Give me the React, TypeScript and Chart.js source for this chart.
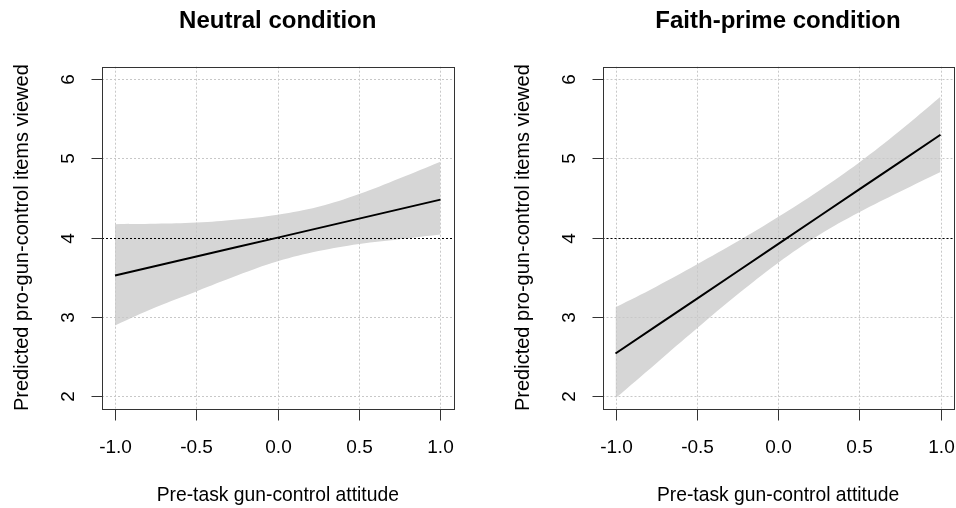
import React, { useEffect, useRef } from 'react';
import { Chart, registerables } from 'chart.js';
Chart.register(...registerables);

const xValues = [-1, -0.75, -0.5, -0.25, 0, 0.25, 0.5, 0.75, 1];
const neutralFit = [3.52, 3.64, 3.76, 3.88, 4.0, 4.12, 4.24, 4.36, 4.48];
const neutralUpper = [4.17, 4.175, 4.19, 4.23, 4.29, 4.39, 4.55, 4.75, 4.96];
const neutralLower = [2.89, 3.12, 3.32, 3.52, 3.7, 3.83, 3.92, 3.98, 4.04];
const faithFit = [2.535, 2.881, 3.226, 3.572, 3.918, 4.263, 4.609, 4.954, 5.3];
const faithUpper = [3.12, 3.38, 3.66, 3.95, 4.26, 4.59, 4.95, 5.35, 5.78];
const faithLower = [1.97, 2.41, 2.85, 3.28, 3.68, 4.03, 4.32, 4.58, 4.83];
const xTicks = [-1, -0.5, 0, 0.5, 1];
const xTickLabels = ['-1.0', '-0.5', '0.0', '0.5', '1.0'];
const yTicks = [2, 3, 4, 5, 6];
const yTickLabels = ['2', '3', '4', '5', '6'];
const panelTitles = ['Neutral condition', 'Faith-prime condition'];
const xTitle = 'Pre-task gun-control attitude';
const yTitle = 'Predicted pro-gun-control items viewed';
const refLine = 4;

const FONT = '"Liberation Sans", Arial, Helvetica, sans-serif';

type PanelProps = {
  title: string;
  fit: number[];
  upper: number[];
  lower: number[];
  padLeft: number;
  padRight: number;
};

function makePlugin(title: string) {
  return {
    id: 'rdecor',
    afterDatasetDraw(chart: any, args: any) {
      if (args.index !== 1) return;
      const { ctx, chartArea: a, scales } = chart;
      ctx.save();
      ctx.lineWidth = 1;
      ctx.setLineDash([2, 2]);
      ctx.strokeStyle = '#c8c8c8';
      xTicks.forEach((v) => {
        const px = Math.round(scales.x.getPixelForValue(v)) + 0.5;
        ctx.beginPath();
        ctx.moveTo(px, a.top);
        ctx.lineTo(px, a.bottom);
        ctx.stroke();
      });
      yTicks.forEach((v) => {
        const py = Math.round(scales.y.getPixelForValue(v)) + 0.5;
        ctx.beginPath();
        ctx.moveTo(a.left, py);
        ctx.lineTo(a.right, py);
        ctx.stroke();
      });
      ctx.strokeStyle = '#000';
      const ry = Math.round(scales.y.getPixelForValue(refLine)) + 0.5;
      ctx.beginPath();
      ctx.moveTo(a.left, ry);
      ctx.lineTo(a.right, ry);
      ctx.stroke();
      ctx.restore();
    },
    afterDraw(chart: any) {
      const { ctx, chartArea: a, scales } = chart;
      ctx.save();
      ctx.setLineDash([]);
      ctx.lineWidth = 1;
      ctx.strokeStyle = '#333';
      const L = Math.round(a.left) + 0.5;
      const R = Math.round(a.right) + 0.5;
      const T = Math.round(a.top) + 0.5;
      const B = Math.round(a.bottom) + 0.5;
      ctx.strokeRect(L, T, R - L, B - T);
      ctx.fillStyle = '#000';
      ctx.font = `19px ${FONT}`;
      ctx.textAlign = 'center';
      ctx.textBaseline = 'alphabetic';
      xTicks.forEach((v, i) => {
        const px = Math.round(scales.x.getPixelForValue(v)) + 0.5;
        ctx.beginPath();
        ctx.moveTo(px, B);
        ctx.lineTo(px, B + 11);
        ctx.stroke();
        ctx.fillText(xTickLabels[i], px, B + 43.5);
      });
      yTicks.forEach((v, i) => {
        const py = Math.round(scales.y.getPixelForValue(v)) + 0.5;
        ctx.beginPath();
        ctx.moveTo(L, py);
        ctx.lineTo(L - 11, py);
        ctx.stroke();
        ctx.save();
        ctx.translate(L - 29, py);
        ctx.rotate(-Math.PI / 2);
        ctx.fillText(yTickLabels[i], 0, 0);
        ctx.restore();
      });
      const cx = (a.left + a.right) / 2;
      const cy = (a.top + a.bottom) / 2;
      ctx.font = `19.3px ${FONT}`;
      ctx.fillText(xTitle, cx, B + 91.5);
      ctx.save();
      ctx.font = `20px ${FONT}`;
      ctx.translate(L - 75, cy);
      ctx.rotate(-Math.PI / 2);
      ctx.fillText(yTitle, 0, 0);
      ctx.restore();
      ctx.font = `bold 24px ${FONT}`;
      ctx.fillText(title, cx, 27.5);
      ctx.restore();
    },
  };
}

function Panel({ title, fit, upper, lower, padLeft, padRight }: PanelProps) {
  const ref = useRef<HTMLCanvasElement | null>(null);
  useEffect(() => {
    if (!ref.current) return;
    const toPts = (arr: number[]) => arr.map((y, i) => ({ x: xValues[i], y }));
    const chart = new Chart(ref.current, {
      type: 'line',
      data: {
        datasets: [
          {
            data: toPts(fit),
            borderColor: '#000',
            borderWidth: 2,
            pointRadius: 0,
            fill: false,
          },
          {
            data: toPts(lower),
            borderWidth: 0,
            borderColor: 'rgba(0,0,0,0)',
            pointRadius: 0,
            fill: false,
            tension: 0.4,
          },
          {
            data: toPts(upper),
            borderWidth: 0,
            borderColor: 'rgba(0,0,0,0)',
            pointRadius: 0,
            backgroundColor: '#d6d6d6',
            fill: '-1',
            tension: 0.4,
          },
        ],
      },
      options: {
        animation: false,
        responsive: false,
        maintainAspectRatio: false,
        events: [],
        layout: { padding: { left: padLeft, right: padRight, top: 66.7, bottom: 99.5 } },
        plugins: { legend: { display: false }, tooltip: { enabled: false }, title: { display: false } },
        scales: {
          x: { type: 'linear', min: -1.08, max: 1.08, display: false },
          y: { type: 'linear', min: 1.84, max: 6.16, display: false },
        },
      },
      plugins: [makePlugin(title)],
    } as any);
    return () => chart.destroy();
  }, []);
  return <canvas ref={ref} width={478} height={508} style={{ width: 478, height: 508, display: 'block' }} />;
}

export default function App() {
  return (
    <div style={{ position: 'absolute', left: 0, top: 0, width: 956, height: 508, display: 'flex', background: '#fff' }}>
      <Panel title={panelTitles[0]} fit={neutralFit} upper={neutralUpper} lower={neutralLower} padLeft={102} padRight={24.5} />
      <Panel title={panelTitles[1]} fit={faithFit} upper={faithUpper} lower={faithLower} padLeft={124.5} padRight={2.5} />
    </div>
  );
}
